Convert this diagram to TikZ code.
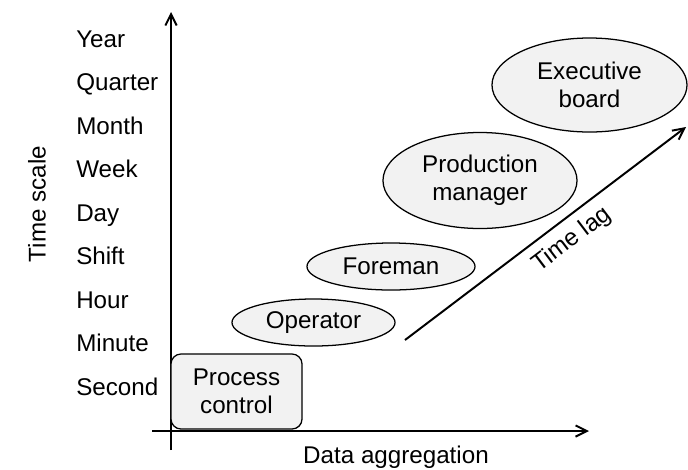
\documentclass[tikz,border=0pt]{standalone}
\usepackage{fontspec}
\setmainfont{Liberation Sans}
\usetikzlibrary{shapes.geometric,arrows.meta,positioning}

\begin{document}
\begin{tikzpicture}[x=0.025cm, y=-0.025cm,
    every node/.style={font=\fontsize{17.2}{19.9}\selectfont, align=center},
    axis/.style={line width=1.4pt, -{Straight Barb[length=8pt, width=8pt]}},
    role/.style={draw, ellipse, fill=gray!10, line width=0.9pt, inner sep=0pt},
    tick/.style={anchor=base west, inner sep=0pt}]
    \useasboundingbox (0,0) rectangle (688,469);

    % Axes
    \coordinate (ybot) at (171,450);
    \coordinate (ytop) at (171,12);
    \coordinate (xleft) at (152,431);
    \coordinate (xright) at (589,431);
    \draw[axis] (ybot) -- (ytop);
    \draw[axis] (xleft) -- (xright);

    % Axis titles
    \node[rotate=90] (tscale) at (37,204) {Time scale};
    \node[anchor=base] (aggr) at (396,463) {Data aggregation};

    % Time scale labels
    \node[tick] (year) at (76,47) {Year};
    \node[tick] (quarter) at (76,90.5) {Quarter};
    \node[tick] (month) at (76,134) {Month};
    \node[tick] (week) at (76,177.5) {Week};
    \node[tick] (day) at (76,221) {Day};
    \node[tick] (shift) at (76,264.5) {Shift};
    \node[tick] (hour) at (76,308) {Hour};
    \node[tick] (minute) at (76,351.5) {Minute};
    \node[tick] (second) at (76,395) {Second};

    % Levels
    \node[draw, rectangle, rounded corners=0.25cm, fill=gray!10, line width=0.9pt,
          minimum width=3.275cm, minimum height=1.875cm] (proc) at (236.5,391.5) {Process\\control};
    \node[role, minimum width=4.075cm, minimum height=1.175cm] (oper) at (313.5,322.5) {Operator};
    \node[role, minimum width=4.2cm, minimum height=1.175cm] (fore) at (391,266.5) {Foreman};
    \node[role, minimum width=4.85cm, minimum height=2.4cm] (prod) at (480,180.5) {Production\\manager};
    \node[role, minimum width=4.875cm, minimum height=2.35cm] (exec) at (589.5,85) {Executive\\board};

    % Time lag
    \coordinate (lagstart) at (405,340);
    \coordinate (lagend) at (686,127);
    \draw[axis] (lagstart) -- node[sloped, below=3pt, pos=0.55] (lag) {Time lag} (lagend);
\end{tikzpicture}
\end{document}
